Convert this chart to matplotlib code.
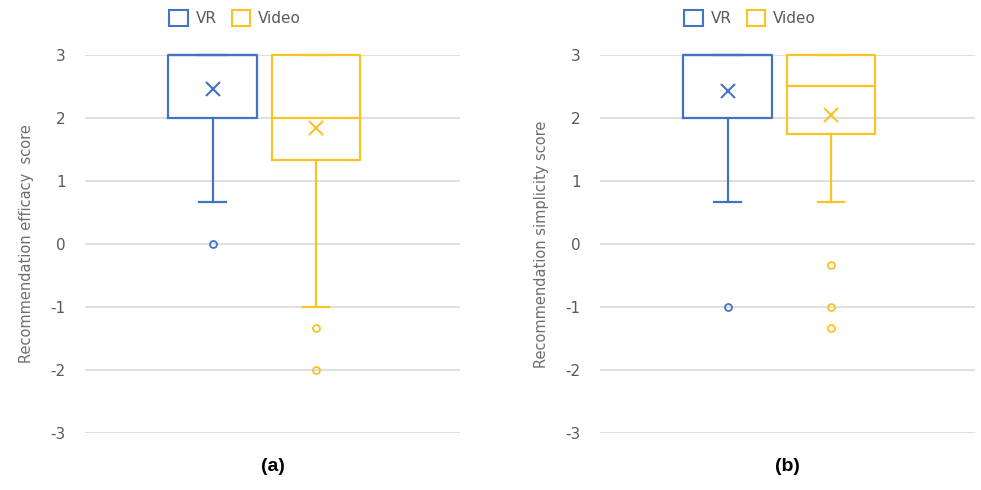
import matplotlib
matplotlib.use('Agg')
import matplotlib.pyplot as plt
from matplotlib.patches import Patch

# box statistics
groups = ['VR', 'Video']
ylabels = ['Recommendation efficacy  score', 'Recommendation simplicity score']
panel_tags = ['(a)', '(b)']

# panel (a)
a_med = [3.0, 2.0]
a_q1 = [2.0, 1.333]
a_q3 = [3.0, 3.0]
a_lo = [0.667, -1.0]
a_hi = [3.0, 3.0]
a_mean = [2.46, 1.84]
a_fliers = [[0.0], [-1.333, -2.0]]

# panel (b)
b_med = [3.0, 2.5]
b_q1 = [2.0, 1.75]
b_q3 = [3.0, 3.0]
b_lo = [0.667, 0.667]
b_hi = [3.0, 3.0]
b_mean = [2.43, 2.05]
b_fliers = [[-1.0], [-0.333, -1.0, -1.333]]

yticks = [-3, -2, -1, 0, 1, 2, 3]
colors = ['#4472C4', '#F7C325']
grey = '#595959'

panels = [
  (a_med, a_q1, a_q3, a_lo, a_hi, a_mean, a_fliers),
  (b_med, b_q1, b_q3, b_lo, b_hi, b_mean, b_fliers),
]

fig = plt.figure(figsize=(9.81, 4.90), dpi=100)
lefts = [85 / 981, 600 / 981]
w = 375 / 981
bottom = 1 - 433 / 490
h = 378 / 490

positions = [0.34, 0.615]

for k, p in enumerate(panels):
  med, q1, q3, lo, hi, mean, fl = p
  ax = fig.add_axes([lefts[k], bottom, w, h])
  for i in range(2):
    st = [dict(med=med[i], q1=q1[i], q3=q3[i], whislo=lo[i], whishi=hi[i],
               mean=mean[i], fliers=fl[i])]
    c = colors[i]
    res = ax.bxp(st, positions=[positions[i]], widths=0.235, showmeans=True,
                 patch_artist=False, manage_ticks=False,
                 boxprops=dict(color=c, linewidth=1.6),
                 medianprops=dict(color=c, linewidth=1.6),
                 whiskerprops=dict(color=c, linewidth=1.6),
                 capprops=dict(color=c, linewidth=1.6),
                 capwidths=0.07,
                 meanprops=dict(marker='x', markeredgecolor=c, markersize=10,
                                markeredgewidth=1.5),
                 flierprops=dict(marker='o', markerfacecolor='none',
                                 markeredgecolor=c, markersize=5,
                                 markeredgewidth=1.3))
    for arts in res.values():
      for a in arts:
        a.set_clip_on(False)
  ax.set_xlim(0, 1)
  ax.set_ylim(-3, 3)
  ax.set_yticks(yticks)
  ax.set_yticklabels([str(t) for t in yticks], fontsize=11, color=grey)
  ax.set_xticks([])
  ax.tick_params(axis='y', length=0, pad=14)
  ax.grid(axis='y', color='#D9D9D9', linewidth=1.2, zorder=0)
  ax.set_axisbelow(True)
  for s in ax.spines.values():
    s.set_visible(False)
  ax.set_ylabel(ylabels[k], fontsize=10.5, color='#6E6E6E', labelpad=12)
  handles = [Patch(facecolor='white', edgecolor=colors[j], linewidth=1.5,
                   label=groups[j]) for j in range(2)]
  ax.legend(handles=handles, loc='lower center', bbox_to_anchor=(0.4, 1.04),
            ncol=2, frameon=False, fontsize=11, labelcolor=grey,
            handlelength=1.2, handleheight=1.2, columnspacing=1.0,
            handletextpad=0.5)
  fig.text(lefts[k] + w * 0.5, 1 - 466 / 490, panel_tags[k],
           fontsize=14, fontweight='bold', family='Liberation Sans',
           ha='center', va='center')

plt.savefig('out.png', dpi=100)
